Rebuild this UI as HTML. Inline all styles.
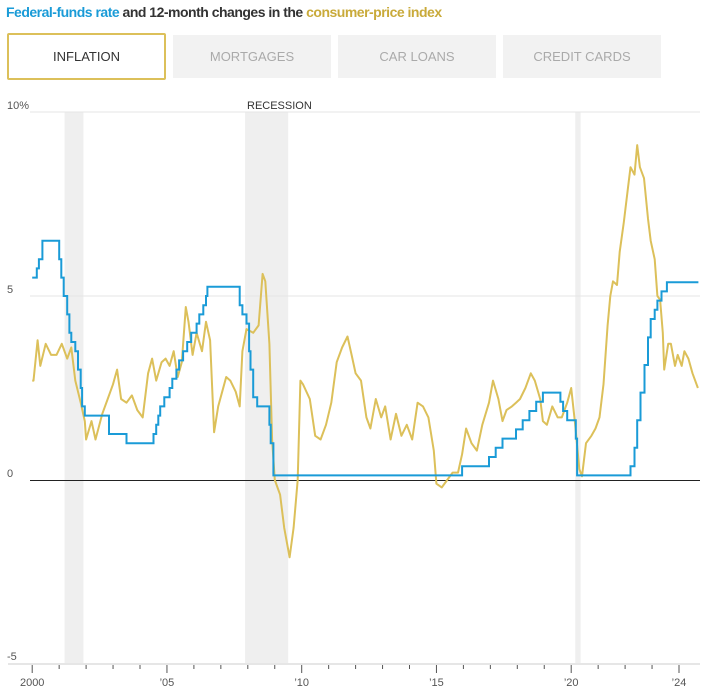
<!DOCTYPE html>
<html><head><meta charset="utf-8"><style>
body{margin:0;background:#fff;width:709px;height:693px;overflow:hidden;font-family:"Liberation Sans Narrow","Liberation Sans",sans-serif;}
.t{position:absolute;left:6px;top:4px;font-size:14px;font-weight:bold;color:#333;letter-spacing:-0.5px}
.tab{position:absolute;top:35px;height:43px;width:158px;background:#f2f2f2;color:#aaa;font-size:13px;text-align:center;line-height:43px}
</style></head><body>
<div class="t"><span style="color:#1a9bd7">Federal-funds rate</span> and 12-month changes in the <span style="color:#c9aa3a">consumer-price index</span></div>
<div class="tab" style="left:7px;top:33px;width:155px;height:43px;background:#fff;border:2px solid #dcc05a;border-radius:2px;color:#333">INFLATION</div>
<div class="tab" style="left:173px">MORTGAGES</div>
<div class="tab" style="left:338px">CAR LOANS</div>
<div class="tab" style="left:503px">CREDIT CARDS</div>
<svg id="s" width="709" height="693" style="position:absolute;left:0;top:0" font-family="Liberation Sans Narrow, Liberation Sans, sans-serif" font-size="11"></svg>
<script>
var X=t=>32.2+26.95*(t-2000),Y=v=>480-36.8*v;
var h='';
[[2001.2,2001.9],[2007.9,2009.5],[2020.15,2020.35]].forEach(r=>{h+=`<rect x="${X(r[0])}" y="112" width="${X(r[1])-X(r[0])}" height="552" fill="#efefef"/>`});
h+=`<line x1="30" x2="700" y1="112" y2="112" stroke="#e6e6e6"/><line x1="30" x2="700" y1="296" y2="296" stroke="#e6e6e6"/><line x1="30" x2="700" y1="480.5" y2="480.5" stroke="#222"/><line x1="8" x2="700" y1="664" y2="664" stroke="#e6e6e6" stroke-width="2"/>`;
h+=`<text x="7" y="109" fill="#555">10%</text><text x="7" y="293" fill="#555">5</text><text x="7" y="477" fill="#555">0</text><text x="7" y="660" fill="#555">-5</text><text x="247" y="109" fill="#333">RECESSION</text>`;
for(var y=2000;y<=2024;y++){var x=X(y),m=y%5==0||y==2024;h+=`<line x1="${x}" x2="${x}" y1="665" y2="${m?673:669}" stroke="#555"/>`;}
[[2000,'2000'],[2005,'’05'],[2010,'’10'],[2015,'’15'],[2020,'’20'],[2024,'’24']].forEach(a=>{h+=`<text x="${X(a[0])}" y="686" text-anchor="middle" fill="#555">${a[1]}</text>`});
var c=[2000,2.7,2000.05,2.7,2000.2,3.8,2000.3,3.1,2000.5,3.7,2000.7,3.4,2000.9,3.4,2001.1,3.7,2001.3,3.3,2001.45,3.6,2001.6,2.7,2001.8,2.1,2001.95,1.6,2002,1.1,2002.2,1.6,2002.35,1.1,2002.6,1.8,2002.8,2.2,2003,2.6,2003.15,3.0,2003.3,2.2,2003.5,2.1,2003.7,2.3,2003.9,1.9,2004.1,1.7,2004.3,2.9,2004.45,3.3,2004.6,2.7,2004.8,3.2,2004.95,3.3,2005.1,3.1,2005.25,3.5,2005.4,2.8,2005.55,3.2,2005.7,4.7,2005.8,4.3,2005.95,3.4,2006.1,4.0,2006.3,3.5,2006.45,4.3,2006.6,3.8,2006.75,1.3,2006.9,2.0,2007.05,2.4,2007.2,2.8,2007.35,2.7,2007.55,2.4,2007.7,2.0,2007.8,3.5,2007.95,4.1,2008.2,4.0,2008.4,4.2,2008.55,5.6,2008.65,5.4,2008.8,3.7,2008.9,1.1,2009,0,2009.2,-0.4,2009.35,-1.3,2009.55,-2.1,2009.7,-1.3,2009.85,0,2009.95,2.7,2010.05,2.6,2010.3,2.2,2010.5,1.2,2010.7,1.1,2010.9,1.5,2011.1,2.1,2011.3,3.2,2011.5,3.6,2011.7,3.9,2011.85,3.4,2012,2.9,2012.2,2.7,2012.4,1.7,2012.55,1.4,2012.75,2.2,2012.95,1.7,2013.1,2.0,2013.3,1.1,2013.5,1.8,2013.7,1.2,2013.9,1.5,2014.1,1.1,2014.3,2.1,2014.5,2.0,2014.7,1.7,2014.9,0.8,2015,-0.1,2015.2,-0.2,2015.4,0,2015.6,0.2,2015.8,0.2,2015.95,0.7,2016.1,1.4,2016.3,1.0,2016.5,0.8,2016.7,1.5,2016.95,2.1,2017.1,2.7,2017.3,2.2,2017.45,1.6,2017.6,1.9,2017.8,2.0,2017.95,2.1,2018.1,2.2,2018.3,2.5,2018.5,2.9,2018.65,2.7,2018.85,2.2,2018.95,1.6,2019.1,1.5,2019.3,2.0,2019.5,1.7,2019.65,1.7,2019.85,2.1,2020,2.5,2020.15,1.5,2020.3,0.3,2020.4,0.1,2020.55,1.0,2020.75,1.2,2020.9,1.4,2021.05,1.7,2021.2,2.6,2021.35,4.2,2021.45,5.0,2021.55,5.4,2021.7,5.3,2021.8,6.2,2021.95,7.0,2022.1,7.9,2022.2,8.5,2022.35,8.3,2022.45,9.1,2022.55,8.5,2022.7,8.2,2022.85,7.1,2022.95,6.5,2023.1,6.0,2023.2,5.0,2023.3,4.9,2023.4,4.0,2023.45,3.0,2023.6,3.7,2023.7,3.7,2023.85,3.1,2023.95,3.4,2024.1,3.1,2024.2,3.5,2024.35,3.3,2024.5,2.9,2024.7,2.5];
var p='';for(var i=0;i<c.length;i+=2)p+=(i?'L':'M')+X(c[i]).toFixed(1)+','+Y(c[i+1]).toFixed(1);
h+=`<path d="${p}" fill="none" stroke="#dcc05a" stroke-width="2" stroke-linejoin="round"/>`;
var f=[2000,5.5,2000.17,5.75,2000.25,6.0,2000.38,6.5,2001.0,6.0,2001.08,5.5,2001.17,5.0,2001.3,4.5,2001.38,4.0,2001.45,3.75,2001.6,3.5,2001.7,3.0,2001.8,2.5,2001.85,2.0,2001.95,1.75,2002.85,1.25,2003.5,1.0,2004.5,1.25,2004.6,1.5,2004.68,1.75,2004.75,2.0,2004.9,2.25,2005.1,2.5,2005.2,2.75,2005.35,3.0,2005.45,3.25,2005.6,3.5,2005.75,3.75,2005.9,4.0,2006.1,4.25,2006.2,4.5,2006.35,4.75,2006.45,5.0,2006.5,5.25,2007.7,4.75,2007.8,4.5,2007.95,4.25,2008.05,3.5,2008.1,3.0,2008.2,2.25,2008.35,2.0,2008.8,1.5,2008.85,1.0,2008.95,0.125,2015.95,0.375,2016.95,0.625,2017.2,0.875,2017.45,1.125,2017.95,1.375,2018.2,1.625,2018.45,1.875,2018.7,2.125,2018.95,2.375,2019.6,2.125,2019.7,1.875,2019.85,1.625,2020.17,1.125,2020.22,0.125,2022.2,0.375,2022.35,0.875,2022.45,1.625,2022.57,2.375,2022.72,3.125,2022.85,3.875,2022.95,4.375,2023.1,4.625,2023.2,4.875,2023.35,5.125,2023.55,5.375,2024.72,5.375];
p='M'+X(f[0])+','+Y(f[1]);for(var i=2;i<f.length;i+=2)p+='H'+X(f[i]).toFixed(1)+'V'+Y(f[i+1]).toFixed(1);
h+=`<path d="${p}" fill="none" stroke="#1a9bd7" stroke-width="2"/>`;
document.getElementById('s').innerHTML=h;
</script>
</body></html>
